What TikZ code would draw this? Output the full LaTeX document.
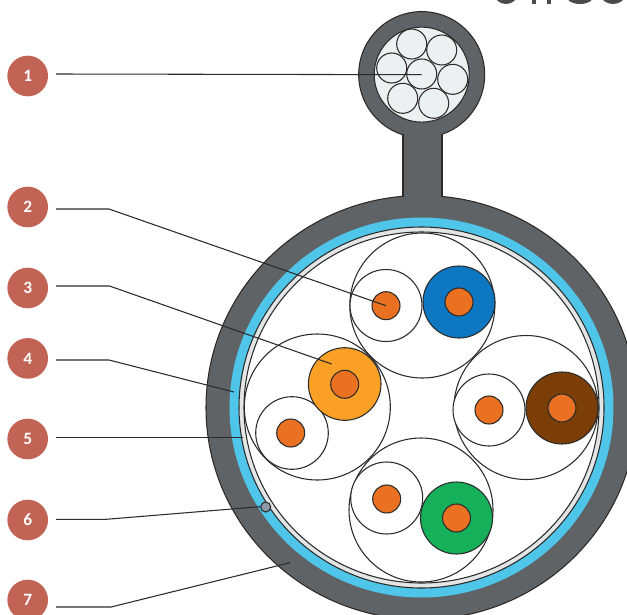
\documentclass[tikz,border=0pt]{standalone}
\usepackage{fontspec}
\setmainfont{Carlito}
\usepackage{xcolor}
\definecolor{jacket}{HTML}{5F6366}
\definecolor{shield}{HTML}{4EC5E9}
\definecolor{foil}{HTML}{E3E6E7}
\definecolor{steel}{HTML}{EDF0F1}
\definecolor{drain}{HTML}{8A9AA8}
\definecolor{badgecolor}{HTML}{C16355}
\definecolor{copper}{HTML}{EA7122}
\definecolor{pairblue}{HTML}{0D78C1}
\definecolor{pairorange}{HTML}{FBA026}
\definecolor{pairbrown}{HTML}{7A3E06}
\definecolor{pairgreen}{HTML}{17B05A}
\definecolor{inkline}{HTML}{2B2B2B}
\tikzset{
    outline/.style={draw=inkline, line width=0.8pt},
    wire/.style={outline, fill=steel},
    core/.style={outline, fill=copper},
    leader/.style={inkline, line width=0.8pt},
    badge/.style={circle, fill=badgecolor, text=white, minimum size=30.5pt, inner sep=0pt, font=\bfseries\fontsize{13}{13}\selectfont}
}

\begin{document}
\begin{tikzpicture}[x=0.75pt, y=-0.75pt]
    % Page in reference pixels
    \clip (0,0) rectangle (627,614);

    % Bottoms of the cropped heading
    \fill[inkline!85] (506,-6) ellipse (11.5 and 10);
    \fill[inkline!85] (531.5,-8) rectangle (535.5,4);
    \fill[inkline!85] (547,-8) rectangle (551,4);
    \fill[inkline!85] (580,-6) ellipse (15 and 10);
    \fill[inkline!85] (613,-6) ellipse (12.5 and 10);

    % Jacket with messenger
    \draw[outline, fill=jacket] (421.7,74.6) circle (63);
    \draw[outline, fill=jacket] (421.5,407.5) ellipse (215.5 and 212);
    \fill[jacket] (403,130) rectangle (442,200);
    \draw[outline] (403,134) -- (403,197);
    \draw[outline] (442,134) -- (442,197);

    % Messenger strands
    \draw[wire] (421.7,74.6) circle (47.5);
    \draw[wire] (411.7,44) circle (15);
    \draw[wire] (441.7,50) circle (15);
    \draw[wire] (391.7,68) circle (15);
    \draw[wire] (452.7,79.3) circle (15);
    \draw[wire] (402.7,98.3) circle (15);
    \draw[wire] (433.7,103.3) circle (15);
    \draw[wire] (421.7,74) circle (15);

    % Shield and foil
    \fill[shield] (421.5,407.5) ellipse (192 and 190);
    \draw[outline, fill=foil] (421.5,407.5) ellipse (182.5 and 180.5);
    \draw[outline, fill=white] (421.5,407.5) ellipse (177.5 and 175.5);

    % Drain wire
    \draw[outline, fill=drain] (265.7,507) circle (5);

    % Top bundle
    \draw[outline] (422.3,305.5) circle (72.5);
    \draw[outline, fill=white] (386,305.5) circle (36);
    \draw[core] (386,305.7) circle (14);
    \draw[outline, fill=pairblue] (459,302) circle (36);
    \draw[core] (459,302) circle (14);

    % Left bundle
    \draw[outline] (317.3,407) circle (73);
    \draw[outline, fill=white] (292,433) circle (36.3);
    \draw[core] (290.7,433) circle (14);
    \draw[outline, fill=pairorange] (344.7,384) circle (36.3);
    \draw[core] (344.7,384.3) circle (14);

    % Right bundle
    \draw[outline] (526,407.5) circle (72);
    \draw[outline, fill=white] (489,410) circle (36);
    \draw[core] (489,410) circle (14);
    \draw[outline, fill=pairbrown] (562,408) circle (36);
    \draw[core] (562,408) circle (14);

    % Bottom bundle
    \draw[outline] (421,510) circle (72);
    \draw[outline, fill=white] (386.7,498) circle (36);
    \draw[core] (386.7,499) circle (14);
    \draw[outline, fill=pairgreen] (456.5,518) circle (36);
    \draw[core] (456.5,518) circle (14);

    % Numbered badges
    \node[badge] (n1) at (27.7,76) {1};
    \node[badge] (n2) at (27.7,207) {2};
    \node[badge] (n3) at (27.7,288) {3};
    \node[badge] (n4) at (27.7,358.4) {4};
    \node[badge] (n5) at (27.7,439) {5};
    \node[badge] (n6) at (27.7,520) {6};
    \node[badge] (n7) at (27.7,600) {7};

    % Leader ends
    \coordinate (t1) at (421.7,74.7);
    \coordinate (t2) at (386,305.7);
    \coordinate (t3) at (331.7,364);
    \coordinate (t4) at (234,392);
    \coordinate (t5) at (243.3,437.6);
    \coordinate (t6) at (260,506.7);
    \coordinate (t7) at (290,562.7);

    % Leaders
    \draw[leader] (56,74) -- (t1);
    \draw[leader] (56,209) -- (109,209) -- (t2);
    \draw[leader] (56,286) -- (109.5,286) -- (t3);
    \draw[leader] (56,360) -- (109,360) -- (t4);
    \draw[leader] (56,437.6) -- (t5);
    \draw[leader] (56,519.3) -- (106,519.3) -- (t6);
    \draw[leader] (56,607) -- (111,607) -- (t7);
\end{tikzpicture}
\end{document}
